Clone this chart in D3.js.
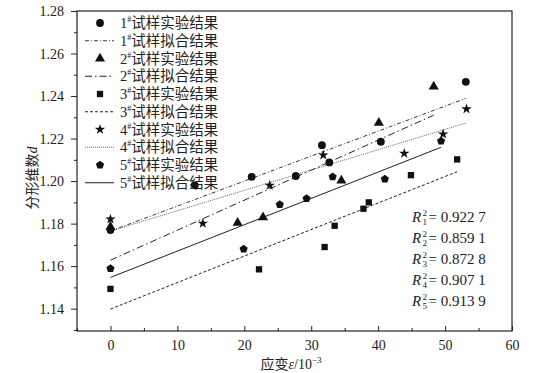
<!DOCTYPE html>
<html><head><meta charset="utf-8">
<script src="https://cdn.jsdelivr.net/npm/d3@7"></script>
<style>
html,body{margin:0;padding:0;background:#fff;}
svg{display:block;}
text{fill:#222;}
</style></head>
<body><svg id="c" width="540" height="373"></svg>
<script>
// ---- data ----
const strain1 = [0, 12.6, 21.1, 27.7, 31.6, 32.7, 40.4, 53.1];
const dim1    = [1.177, 1.198, 1.202, 1.2024, 1.2169, 1.2088, 1.2185, 1.2467];
const strain2 = [0, 19.0, 22.8, 34.5, 40.1, 48.3];
const dim2    = [1.1785, 1.1804, 1.183, 1.2002, 1.2274, 1.2444];
const strain3 = [0, 22.2, 32.0, 33.5, 37.8, 38.6, 44.9, 51.8];
const dim3    = [1.1493, 1.1585, 1.169, 1.179, 1.187, 1.190, 1.2028, 1.2102];
const strain4 = [0, 13.8, 23.8, 31.8, 43.9, 49.7, 53.2];
const dim4    = [1.1821, 1.1801, 1.198, 1.2122, 1.213, 1.2221, 1.2339];
const strain5 = [0, 19.9, 25.3, 29.3, 33.2, 41.0, 49.4];
const dim5    = [1.1589, 1.168, 1.189, 1.1918, 1.202, 1.201, 1.2188];
// fitted lines: start (x=0) and end values
const fitX0 = [0, 0, 0, 0, 0];
const fitY0 = [1.1765, 1.1628, 1.1398, 1.1765, 1.1547];
const fitX1 = [53.1, 48.3, 51.8, 53.2, 49.4];
const fitY1 = [1.2389, 1.231, 1.2044, 1.2274, 1.2159];
const specimenIds = ["1", "2", "3", "4", "5"];
const r2Values = ["0.922 7", "0.859 1", "0.872 8", "0.907 1", "0.913 9"];
const xTicks = [0, 10, 20, 30, 40, 50, 60];
const yTicks = [1.14, 1.16, 1.18, 1.20, 1.22, 1.24, 1.26, 1.28];

// ---- setup ----
const svg = d3.select("#c");
const L = 77, R = 512, T = 11, B = 331;
const x = d3.scaleLinear().domain([-5, 60]).range([L, R]);
const y = d3.scaleLinear().domain([1.1295, 1.28]).range([B, T]);
const serif = "'Liberation Serif','Times New Roman',serif";
const cjk = "'Liberation Serif','Noto Sans CJK SC',serif";
const ink = "#222";

const pentagon = {
  draw(ctx, size) {
    const r = Math.sqrt(size / 2.378);
    for (let i = 0; i < 5; i++) {
      const a = -Math.PI / 2 + i * 2 * Math.PI / 5;
      const px = r * Math.cos(a), py = r * Math.sin(a);
      if (i === 0) ctx.moveTo(px, py); else ctx.lineTo(px, py);
    }
    ctx.closePath();
  }
};
const symTypes = [d3.symbolCircle, d3.symbolTriangle, d3.symbolSquare, d3.symbolStar, pentagon];
const symSizes = [48, 44, 40, 34, 44];
const dashes = ["4,2,1,2", "7,3,1.5,3", "3,2", "1,1", null];
const lineW = [0.9, 1, 1, 0.9, 1];
const lineCol = [ink, ink, ink, "#555", ink];

const seriesX = [strain1, strain2, strain3, strain4, strain5];
const seriesY = [dim1, dim2, dim3, dim4, dim5];

// frame
svg.append("rect").attr("x", L).attr("y", T).attr("width", R - L).attr("height", B - T)
  .attr("fill", "none").attr("stroke", ink).attr("stroke-width", 1.2);

// axes
const xAxis = d3.axisBottom(x).tickValues(xTicks).tickSize(-5).tickPadding(9).tickFormat(d3.format("d"));
const gx = svg.append("g").attr("transform", `translate(0,${B})`).call(xAxis);
const gxm = svg.append("g").attr("transform", `translate(0,${B})`)
  .call(d3.axisBottom(x).tickValues(d3.range(-5, 61, 5).filter(v => v % 10 !== 0)).tickSize(-3).tickFormat(""));
const yAxis = d3.axisLeft(y).tickValues(yTicks).tickSize(6).tickPadding(7).tickFormat(d3.format(".2f"));
const gy = svg.append("g").attr("transform", `translate(${L},0)`).call(yAxis);
const gym = svg.append("g").attr("transform", `translate(${L},0)`)
  .call(d3.axisLeft(y).tickValues(d3.range(1.13, 1.2801, 0.01).map(v => +v.toFixed(2)).filter(v => Math.round(v * 100) % 2 === 1)).tickSize(3).tickFormat(""));
[gx, gxm, gy, gym].forEach(g => {
  g.select(".domain").remove();
  g.selectAll("line").attr("stroke", ink).attr("stroke-width", 1);
  g.selectAll("text").attr("font-family", serif).attr("font-size", 14).attr("fill", ink);
});

// fit lines
for (let i = 0; i < 5; i++) {
  const p = svg.append("line")
    .attr("x1", x(fitX0[i])).attr("y1", y(fitY0[i]))
    .attr("x2", x(fitX1[i])).attr("y2", y(fitY1[i]))
    .attr("stroke", lineCol[i]).attr("stroke-width", lineW[i]);
  if (dashes[i]) p.attr("stroke-dasharray", dashes[i]);
}

// points
for (let i = 0; i < 5; i++) {
  const sym = d3.symbol().type(symTypes[i]).size(symSizes[i]);
  svg.append("g").selectAll("path").data(seriesX[i].map((v, j) => [v, seriesY[i][j]]))
    .join("path").attr("d", sym).attr("fill", "#111")
    .attr("transform", d => `translate(${x(d[0])},${y(d[1])})`);
}

// legend
const legX = 100, legY0 = 23, legStep = 17.75;
for (let i = 0; i < 5; i++) {
  const yr1 = legY0 + (2 * i) * legStep;
  const yr2 = legY0 + (2 * i + 1) * legStep;
  svg.append("path").attr("d", d3.symbol().type(symTypes[i]).size(symSizes[i])())
    .attr("fill", "#111").attr("transform", `translate(${legX},${yr1})`);
  const ln = svg.append("line").attr("x1", 85).attr("x2", 114).attr("y1", yr2).attr("y2", yr2)
    .attr("stroke", lineCol[i]).attr("stroke-width", lineW[i]);
  if (dashes[i]) ln.attr("stroke-dasharray", dashes[i]);
  [[yr1, "试样实验结果"], [yr2, "试样拟合结果"]].forEach(([yy, label]) => {
    const t = svg.append("text").attr("x", 120).attr("y", yy + 5)
      .attr("font-family", cjk).attr("font-size", 14.5);
    t.append("tspan").text(specimenIds[i]);
    t.append("tspan").attr("font-size", 8).attr("dy", -6).text("#");
    t.append("tspan").attr("dy", 6).text(label);
  });
}

// R² annotations
const rX = 412, rY0 = 222, rStep = 21;
r2Values.forEach((v, i) => {
  const yy = rY0 + i * rStep;
  const g = svg.append("g").attr("font-family", serif);
  g.append("text").attr("x", rX).attr("y", yy).attr("font-size", 15).attr("font-style", "italic").text("R");
  g.append("text").attr("x", rX + 10.5).attr("y", yy - 6).attr("font-size", 9).text("2");
  g.append("text").attr("x", rX + 10.5).attr("y", yy + 3).attr("font-size", 9).text(specimenIds[i]);
  g.append("text").attr("x", rX + 16.5).attr("y", yy).attr("font-size", 15).text("= " + v);
});

// axis titles
const xt = svg.append("text").attr("x", 291).attr("y", 369).attr("text-anchor", "middle")
  .attr("font-family", cjk).attr("font-size", 14);
xt.append("tspan").text("应变");
xt.append("tspan").attr("font-style", "italic").text("ε");
xt.append("tspan").text("/10");
xt.append("tspan").attr("font-size", 9).attr("dy", -6).text("−3");

const yt = svg.append("text").attr("transform", "translate(37,178) rotate(-90)").attr("text-anchor", "middle")
  .attr("font-family", cjk).attr("font-size", 14);
yt.append("tspan").text("分形维数");
yt.append("tspan").attr("font-style", "italic").text("d");
</script>
</body></html>
